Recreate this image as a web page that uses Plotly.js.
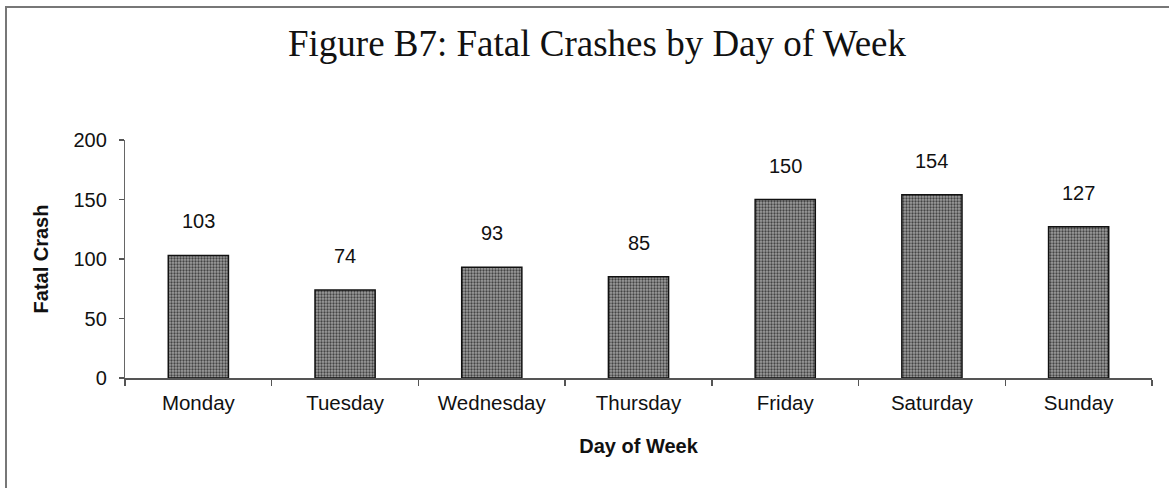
<!DOCTYPE html>
<html>
<head>
<meta charset="utf-8">
<script src="https://cdn.plot.ly/plotly-3.0.1.min.js"></script>
<style>
html,body{margin:0;padding:0;background:#fff;}
#chart{width:1169px;height:488px;}
</style>
</head>
<body>
<div id="chart"></div>
<script>
const days = ["Monday","Tuesday","Wednesday","Thursday","Friday","Saturday","Sunday"];
const fatalCrashes = [103, 74, 93, 85, 150, 154, 127];
const yTicks = [0, 50, 100, 150, 200];

const W = 1169, H = 488;
const L = 125, R = 17, T = 140, B = 110;
const pw = W - L - R, ph = H - T - B;

const trace = {
  type: 'bar',
  x: days,
  y: fatalCrashes,
  marker: {
    color: '#888',
    line: {color: '#111', width: 1.5},
    pattern: {shape: '.', bgcolor: '#9e9e9e', fgcolor: '#444', size: 3, solidity: 0.45}
  },
  hoverinfo: 'x+y'
};

const annotations = days.map((d, i) => ({
  x: d, y: fatalCrashes[i], xref: 'x', yref: 'y',
  text: String(fatalCrashes[i]), showarrow: false,
  yanchor: 'middle', yshift: 34,
  font: {family: 'Liberation Sans, Arial, sans-serif', size: 20, color: '#111'}
}));

const layout = {
  width: W, height: H,
  margin: {l: L, r: R, t: T, b: B, pad: 0},
  paper_bgcolor: '#fff', plot_bgcolor: '#fff',
  showlegend: false,
  bargap: 0.59,
  title: {
    text: 'Figure B7: Fatal Crashes by Day of Week',
    font: {family: 'Liberation Serif, Times New Roman, serif', size: 37, color: '#111'},
    xref: 'container', x: 597 / W, xanchor: 'center',
    yref: 'container', y: 1 - 43 / H, yanchor: 'middle'
  },
  xaxis: {
    type: 'category',
    showline: true, linecolor: '#555', linewidth: 1.5,
    ticks: 'outside', ticklen: 6, tickcolor: '#555', tickwidth: 1.5,
    tickson: 'boundaries',
    ticklabelstandoff: 6,
    showgrid: false, zeroline: false,
    tickfont: {family: 'Liberation Sans, Arial, sans-serif', size: 20.5, color: '#111'},
    title: {
      text: '<b>Day of Week</b>', standoff: 26,
      font: {family: 'Liberation Sans, Arial, sans-serif', size: 20, color: '#111'}
    }
  },
  yaxis: {
    range: [0, 200],
    tickvals: yTicks,
    ticktext: yTicks.map(String),
    showline: true, linecolor: '#666', linewidth: 1.2,
    ticks: 'outside', ticklen: 5, tickcolor: '#555', tickwidth: 1.2,
    showgrid: false, zeroline: false,
    tickfont: {family: 'Liberation Sans, Arial, sans-serif', size: 20, color: '#111'},
    ticklabelstandoff: 8,
    title: {
      text: '<b>Fatal Crash</b>', standoff: 19,
      font: {family: 'Liberation Sans, Arial, sans-serif', size: 20, color: '#111'}
    }
  },
  annotations: annotations,
  shapes: [{
    type: 'rect', xref: 'paper', yref: 'paper',
    x0: (6 - L) / pw, x1: (W + 20 - L) / pw,
    y0: -(H + 20 - (H - B)) / ph, y1: (H - B - 7) / ph,
    line: {color: '#777', width: 2}, fillcolor: 'rgba(0,0,0,0)', layer: 'below'
  }]
};

Plotly.newPlot('chart', [trace], layout, {displayModeBar: false, staticPlot: true});
</script>
</body>
</html>
